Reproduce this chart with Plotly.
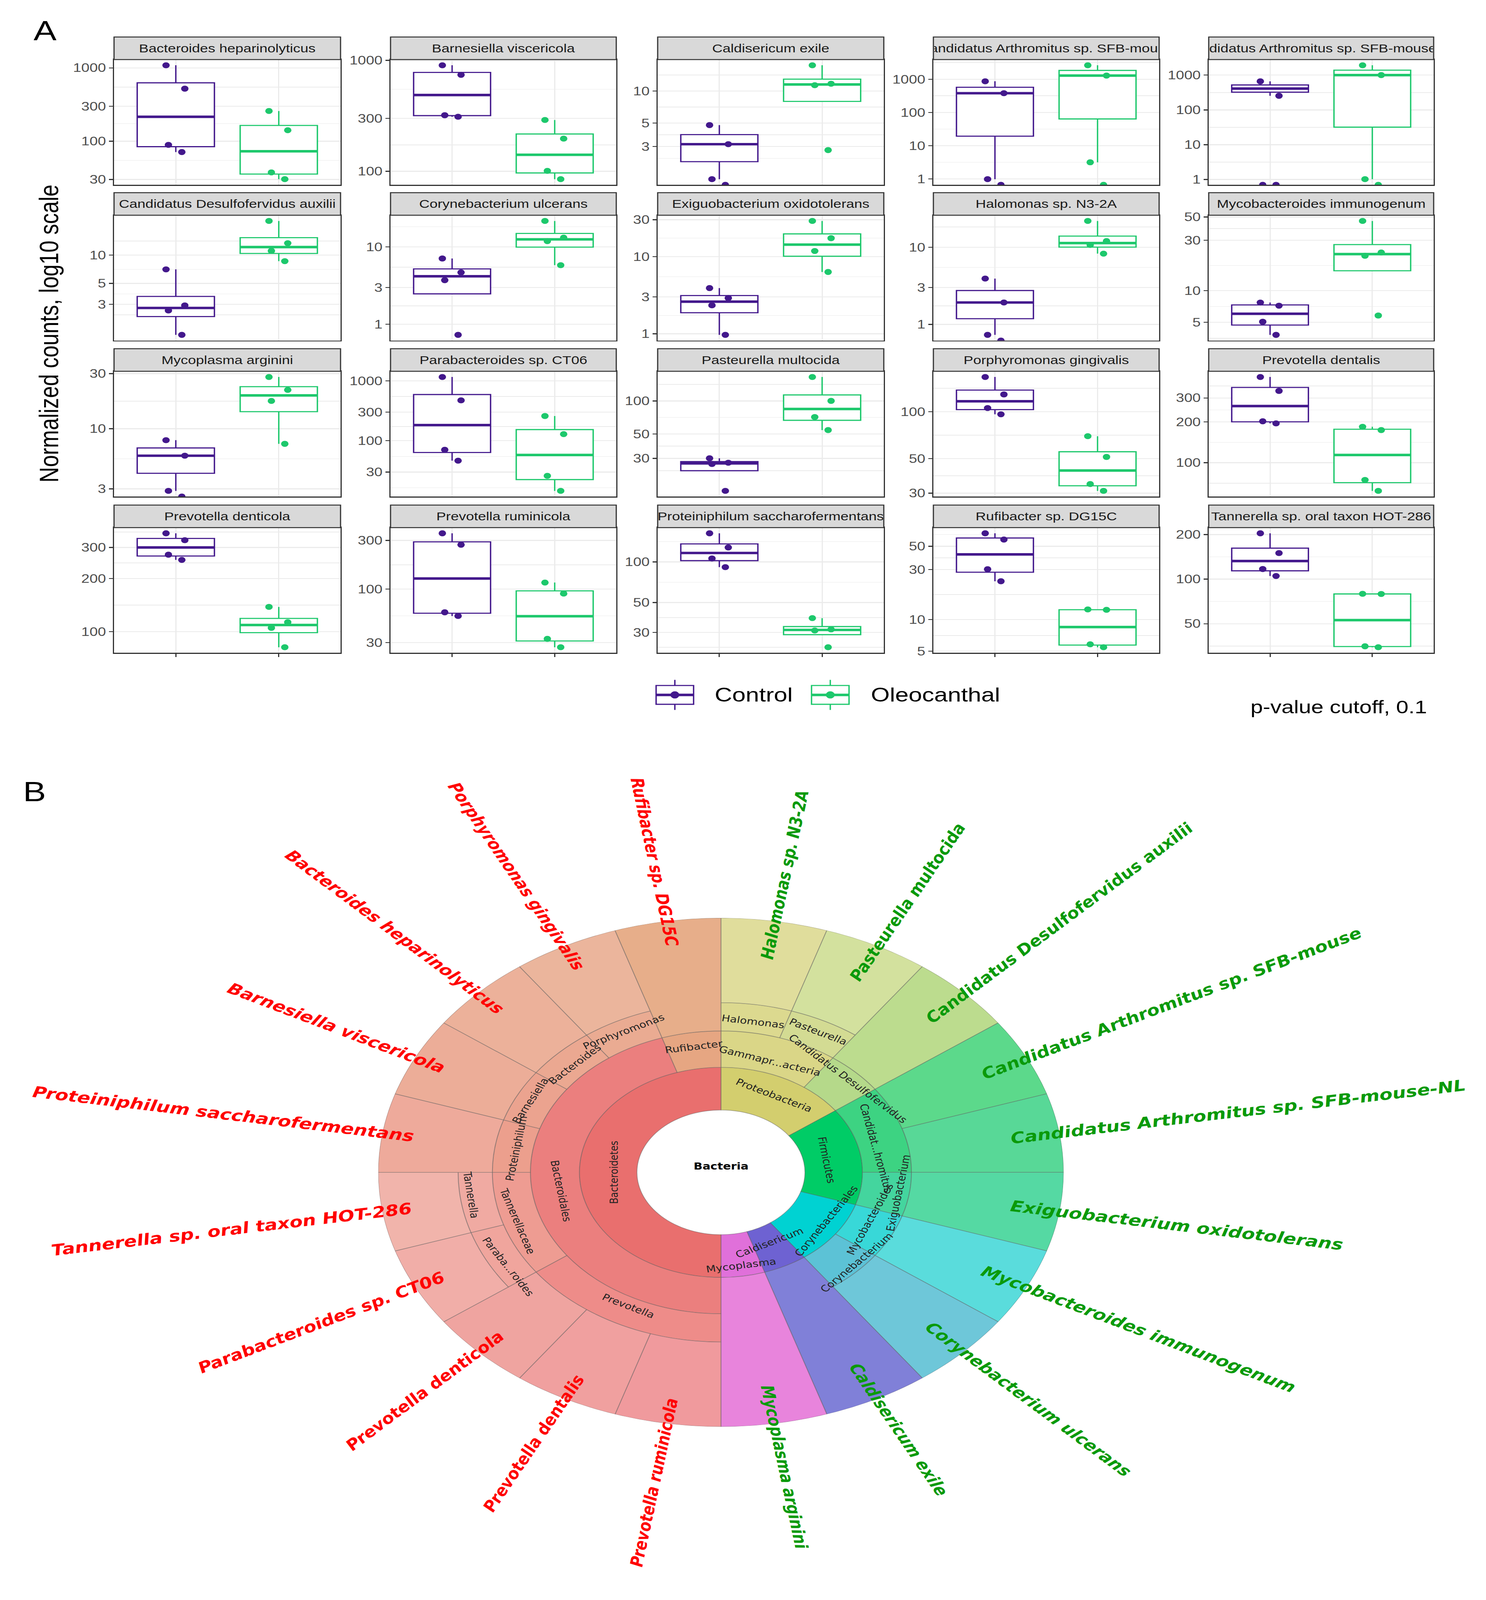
import numpy as np
import plotly.graph_objects as go

# ============================ DATA ============================
panel_titles = [
    "Bacteroides heparinolyticus", "Barnesiella viscericola", "Caldisericum exile",
    "Candidatus Arthromitus sp. SFB-mouse", "Candidatus Arthromitus sp. SFB-mouse-NL",
    "Candidatus Desulfofervidus auxilii", "Corynebacterium ulcerans", "Exiguobacterium oxidotolerans",
    "Halomonas sp. N3-2A", "Mycobacteroides immunogenum",
    "Mycoplasma arginini", "Parabacteroides sp. CT06", "Pasteurella multocida",
    "Porphyromonas gingivalis", "Prevotella dentalis",
    "Prevotella denticola", "Prevotella ruminicola", "Proteiniphilum saccharofermentans",
    "Rufibacter sp. DG15C", "Tannerella sp. oral taxon HOT-286",
]
groups = ["Control", "Oleocanthal"]

# normalized counts per mouse (0 = not detected)
control_counts = [
    [71, 89, 520, 1085], [310, 320, 740, 902], [0, 1.48, 3.16, 4.78],
    [0, 0.98, 379, 866], [0, 0, 254, 662],
    [1.42, 2.58, 2.92, 7.06], [0.73, 3.72, 4.69, 7.1], [0.97, 2.34, 2.91, 3.91],
    [0, 0.73, 1.92, 3.92], [3.8, 5.06, 7.19, 7.7],
    [0, 2.88, 5.82, 7.94], [46.4, 70.6, 473, 1164], [15.2, 26.7, 27.4, 30.1],
    [96.2, 105.5, 129, 167], [195, 202, 338, 428],
    [255, 273, 330, 361], [54.6, 59.3, 272, 352], [91.5, 106, 128, 163],
    [23.2, 30.2, 57.9, 66.4], [105, 117, 150, 204],
]
oleocanthal_counts = [
    [30.3, 37.5, 141, 258], [85, 101, 197, 290], [2.78, 11.35, 11.72, 17.5],
    [0, 3.16, 1285, 2630], [0, 1.02, 1000, 1918],
    [8.63, 11.1, 13.4, 23.1], [5.82, 11.9, 13.2, 21.7], [6.32, 11.8, 17.3, 28.9],
    [8.25, 10.7, 12.0, 21.9], [5.8, 21.4, 23.0, 45.8],
    [7.38, 17.4, 21.7, 28.1], [14.5, 25.9, 129, 259], [54.3, 71.3, 100, 165],
    [31.0, 34.3, 51.2, 69.6], [62.1, 74.8, 174, 184],
    [81.5, 105, 113, 138], [27.0, 32.6, 90.4, 116], [23.3, 31.0, 31.6, 38.3],
    [5.46, 5.82, 12.4, 12.5], [34.7, 35.2, 79.4, 79.6],
]
panel_breaks = [
    [30, 100, 300, 1000], [100, 300, 1000], [3, 5, 10], [1, 10, 100, 1000], [1, 10, 100, 1000],
    [3, 5, 10], [1, 3, 10], [1, 3, 10, 30], [1, 3, 10], [5, 10, 30, 50],
    [3, 10, 30], [30, 100, 300, 1000], [30, 50, 100], [30, 50, 100], [100, 200, 300],
    [100, 200, 300], [30, 100, 300], [30, 50, 100], [5, 10, 30, 50], [50, 100, 200],
]

# taxonomy of the differential species (child, parent), clockwise order
taxonomy = [
    ("Proteobacteria", "Bacteria"),
    ("Gammaproteobacteria", "Proteobacteria"),
    ("Halomonas", "Gammaproteobacteria"),
    ("Halomonas sp. N3-2A", "Halomonas"),
    ("Pasteurella", "Gammaproteobacteria"),
    ("Pasteurella multocida", "Pasteurella"),
    ("Candidatus Desulfofervidus", "Proteobacteria"),
    ("Candidatus Desulfofervidus auxilii", "Candidatus Desulfofervidus"),
    ("Firmicutes", "Bacteria"),
    ("Candidatus Arthromitus", "Firmicutes"),
    ("Candidatus Arthromitus sp. SFB-mouse", "Candidatus Arthromitus"),
    ("Candidatus Arthromitus sp. SFB-mouse-NL", "Candidatus Arthromitus"),
    ("Exiguobacterium", "Firmicutes"),
    ("Exiguobacterium oxidotolerans", "Exiguobacterium"),
    ("Corynebacteriales", "Bacteria"),
    ("Mycobacteroides", "Corynebacteriales"),
    ("Mycobacteroides immunogenum", "Mycobacteroides"),
    ("Corynebacterium", "Corynebacteriales"),
    ("Corynebacterium ulcerans", "Corynebacterium"),
    ("Caldisericum", "Bacteria"),
    ("Caldisericum exile", "Caldisericum"),
    ("Mycoplasma", "Bacteria"),
    ("Mycoplasma arginini", "Mycoplasma"),
    ("Bacteroidetes", "Bacteria"),
    ("Bacteroidales", "Bacteroidetes"),
    ("Prevotella", "Bacteroidales"),
    ("Prevotella ruminicola", "Prevotella"),
    ("Prevotella dentalis", "Prevotella"),
    ("Prevotella denticola", "Prevotella"),
    ("Tannerellaceae", "Bacteroidales"),
    ("Parabacteroides", "Tannerellaceae"),
    ("Parabacteroides sp. CT06", "Parabacteroides"),
    ("Tannerella", "Tannerellaceae"),
    ("Tannerella sp. oral taxon HOT-286", "Tannerella"),
    ("Proteiniphilum", "Bacteroidales"),
    ("Proteiniphilum saccharofermentans", "Proteiniphilum"),
    ("Barnesiella", "Bacteroidales"),
    ("Barnesiella viscericola", "Barnesiella"),
    ("Bacteroides", "Bacteroidales"),
    ("Bacteroides heparinolyticus", "Bacteroides"),
    ("Porphyromonas", "Bacteroidales"),
    ("Porphyromonas gingivalis", "Porphyromonas"),
    ("Rufibacter", "Bacteroidetes"),
    ("Rufibacter sp. DG15C", "Rufibacter"),
]
short_labels = {"Gammaproteobacteria": "Gammapr...acteria",
                "Candidatus Arthromitus": "Candidat...hromitus",
                "Parabacteroides": "Paraba...roides"}

# ============================ STYLE ============================
W, H = 3805, 5073
CTRL, OLEO = "#43188C", "#1DC86C"
FONT_A = "Liberation Sans, Arial, sans-serif"
FONT_B = "DejaVu Sans, Verdana, sans-serif"

col_left = [292, 1000, 1684, 2390, 3095]
col_right = [872, 1578, 2263, 2968, 3671]
strip_top = [100, 597, 1095, 1594]
STRIP_H, PANEL_H = 72, 400

node_colors = {
    "Proteobacteria": "#D3CE6E", "Gammaproteobacteria": "#DAD687", "Halomonas": "#DCD98F",
    "Halomonas sp. N3-2A": "#E0DD9C", "Pasteurella": "#D3DB93", "Pasteurella multocida": "#D3E19E",
    "Candidatus Desulfofervidus": "#B5D98A", "Candidatus Desulfofervidus auxilii": "#BCDC8E",
    "Firmicutes": "#00CC66", "Candidatus Arthromitus": "#3DD382",
    "Candidatus Arthromitus sp. SFB-mouse": "#5CD98B", "Candidatus Arthromitus sp. SFB-mouse-NL": "#58D897",
    "Exiguobacterium": "#44D59E", "Exiguobacterium oxidotolerans": "#55D9A3",
    "Corynebacteriales": "#00D2D2", "Mycobacteroides": "#38D8D8", "Mycobacteroides immunogenum": "#5ADCDC",
    "Corynebacterium": "#5CC2D6", "Corynebacterium ulcerans": "#6EC7D9",
    "Caldisericum": "#6E62D2", "Caldisericum exile": "#8080D8",
    "Mycoplasma": "#E070DA", "Mycoplasma arginini": "#E884DC",
    "Bacteroidetes": "#E96F6E", "Bacteroidales": "#EB7F7E", "Prevotella": "#EE8C89",
    "Prevotella ruminicola": "#F09A9D", "Prevotella dentalis": "#F0A09F", "Prevotella denticola": "#EFA4A0",
    "Tannerellaceae": "#EE9C92", "Parabacteroides": "#F0A59D", "Parabacteroides sp. CT06": "#F1AEA8",
    "Tannerella": "#F0AAA2", "Tannerella sp. oral taxon HOT-286": "#F1B4AB",
    "Proteiniphilum": "#EC9F8D", "Proteiniphilum saccharofermentans": "#EEAA9B",
    "Barnesiella": "#EBA38F", "Barnesiella viscericola": "#ECAD98",
    "Bacteroides": "#EBA891", "Bacteroides heparinolyticus": "#ECB19A",
    "Porphyromonas": "#EAAB92", "Porphyromonas gingivalis": "#EBB59C",
    "Rufibacter": "#E6A682", "Rufibacter sp. DG15C": "#E7AE8A",
}
label_radius = {
    "Bacteroidetes": 0.31, "Bacteroidales": 0.47, "Prevotella": 0.59, "Tannerellaceae": 0.62,
    "Parabacteroides": 0.72, "Tannerella": 0.73, "Proteiniphilum": 0.60, "Barnesiella": 0.62,
    "Bacteroides": 0.60, "Porphyromonas": 0.62, "Rufibacter": 0.50,
    "Proteobacteria": 0.34, "Gammaproteobacteria": 0.46, "Halomonas": 0.60, "Pasteurella": 0.62,
    "Candidatus Desulfofervidus": 0.52, "Firmicutes": 0.31, "Candidatus Arthromitus": 0.46,
    "Exiguobacterium": 0.52, "Corynebacteriales": 0.36, "Mycobacteroides": 0.47,
    "Corynebacterium": 0.53, "Caldisericum": 0.31, "Mycoplasma": 0.37,
}
# small angular nudges of crowded labels (degrees, clockwise from top)
label_theta = {"Parabacteroides": 239, "Tannerella": 263, "Candidatus Arthromitus": 78,
               "Mycobacteroides": 113, "Corynebacteriales": 122, "Corynebacterium": 132}
ring_edges = [0.245, 0.413, 0.556, 0.667, 0.767]
CX, CY = 1846, 3724
R0, KX = 812, 1.088   # wheel radius and its horizontal stretch (as in the reference)

fig = go.Figure()
axes = {}
shapes = []
annotations = []


def q7(v, p):
    return float(np.percentile(v, p))  # linear interpolation (R type 7)


def px(x):
    return x / W


def py(y):
    return 1 - y / H


# ============================ PANEL A ============================
for i, title in enumerate(panel_titles):
    r, c = divmod(i, 5)
    s = "" if i == 0 else str(i + 1)
    st = strip_top[r]
    pt, pb = st + STRIP_H, st + STRIP_H + PANEL_H
    xl, xr = col_left[c], col_right[c]

    finite = [np.log10(v) for v in control_counts[i] + oleocanthal_counts[i] if v > 0]
    lo_f, hi_f = min(finite), max(finite)
    span = hi_f - lo_f
    lo, hi = lo_f - 0.05 * span, hi_f + 0.05 * span

    for g, (vals, col, xpos) in enumerate([(control_counts[i], CTRL, 1), (oleocanthal_counts[i], OLEO, 2)]):
        fin = np.sort([np.log10(v) for v in vals if v > 0])
        q1, med, q3 = q7(fin, 25), q7(fin, 50), q7(fin, 75)
        iqr = q3 - q1
        lf = float(fin[fin >= q1 - 1.5 * iqr].min())
        uf = float(fin[fin <= q3 + 1.5 * iqr].max())
        fig.add_trace(go.Box(
            x=[xpos], q1=[q1], median=[med], q3=[q3], lowerfence=[lf], upperfence=[uf],
            width=0.75, whiskerwidth=0, fillcolor="white", line=dict(color=col, width=3.5),
            boxpoints=False, name=groups[g], legendgroup=groups[g], showlegend=False,
            xaxis="x" + s, yaxis="y" + s))
        fig.add_trace(go.Scatter(
            x=[xpos - 0.375, xpos + 0.375], y=[med, med], mode="lines",
            line=dict(color=col, width=8), showlegend=False, hoverinfo="skip",
            xaxis="x" + s, yaxis="y" + s))
        pts = [np.log10(v) if v > 0 else lo for v in vals]
        fig.add_trace(go.Box(
            x=[xpos] * len(pts), y=pts, width=0.75, boxpoints="all", jitter=0.3, pointpos=0,
            fillcolor="rgba(0,0,0,0)", line=dict(color="rgba(0,0,0,0)", width=0),
            marker=dict(color=col, size=19), showlegend=False, legendgroup=groups[g],
            xaxis="x" + s, yaxis="y" + s))

    br = [np.log10(b) for b in panel_breaks[i]]
    minors = [br[0] - (br[1] - br[0]) / 2] + [(a + b) / 2 for a, b in zip(br[:-1], br[1:])] + \
             [br[-1] + (br[-1] - br[-2]) / 2]
    axes["xaxis" + s] = dict(
        domain=[px(xl), px(xr)], anchor="y" + s, range=[0.4, 2.6], tickvals=[1, 2],
        showticklabels=False, ticks="outside" if r == 3 else "", ticklen=10, tickwidth=3,
        tickcolor="#333333", showgrid=True, gridcolor="#EBEBEB", gridwidth=3, zeroline=False,
        showline=True, linecolor="#333333", linewidth=3, mirror=True)
    axes["yaxis" + s] = dict(
        domain=[py(pb), py(pt)], anchor="x" + s, range=[lo, hi],
        tickvals=br, ticktext=[f"{b:g}" for b in panel_breaks[i]],
        ticks="outside", ticklen=10, tickwidth=3, tickcolor="#333333",
        tickfont=dict(size=38, color="#4D4D4D", family=FONT_A),
        showgrid=True, gridcolor="#EBEBEB", gridwidth=3,
        minor=dict(tickvals=minors, showgrid=True, gridcolor="#EBEBEB", gridwidth=1.5, ticks=""),
        zeroline=False, showline=True, linecolor="#333333", linewidth=3, mirror=True)

    shapes.append(dict(type="rect", xref="paper", yref="paper", x0=px(xl), x1=px(xr),
                       y0=py(pt), y1=py(st), fillcolor="#D9D9D9",
                       line=dict(color="#333333", width=3), layer="above"))
    annotations.append(dict(text=title, xref="paper", yref="paper", x=px((xl + xr) / 2),
                            y=py(st + STRIP_H / 2), showarrow=False, width=xr - xl - 4,
                            font=dict(size=37, color="#1A1A1A", family=FONT_A),
                            xanchor="center", yanchor="middle"))

# legend keys (box glyph with whiskers, median and dot) and labels
LEG_Y = 2200
for gname, col, kx, tx in [("Control", CTRL, 1728, 1828), ("Oleocanthal", OLEO, 2126, 2228)]:
    shapes += [
        dict(type="line", xref="paper", yref="paper", x0=px(kx), x1=px(kx),
             y0=py(LEG_Y - 48), y1=py(LEG_Y + 48), line=dict(color=col, width=3.5)),
        dict(type="rect", xref="paper", yref="paper", x0=px(kx - 48), x1=px(kx + 48),
             y0=py(LEG_Y - 30), y1=py(LEG_Y + 30), fillcolor="white", line=dict(color=col, width=3.5)),
        dict(type="line", xref="paper", yref="paper", x0=px(kx - 48), x1=px(kx + 48),
             y0=py(LEG_Y), y1=py(LEG_Y), line=dict(color=col, width=8)),
        dict(type="circle", xref="paper", yref="paper", x0=px(kx - 11), x1=px(kx + 11),
             y0=py(LEG_Y - 11), y1=py(LEG_Y + 11), fillcolor=col, line=dict(color=col, width=1)),
    ]
    annotations.append(dict(text=gname, xref="paper", yref="paper", x=px(tx), y=py(LEG_Y),
                            showarrow=False, xanchor="left", yanchor="middle",
                            font=dict(size=62, color="black", family=FONT_A)))

annotations += [
    dict(text="A", xref="paper", yref="paper", x=px(115), y=py(80), showarrow=False,
         font=dict(size=88, color="black", family=FONT_A), xanchor="center", yanchor="middle"),
    dict(text="B", xref="paper", yref="paper", x=px(88), y=py(2508), showarrow=False,
         font=dict(size=88, color="black", family=FONT_A), xanchor="center", yanchor="middle"),
    dict(text="Normalized counts, log10 scale", xref="paper", yref="paper", x=px(125),
         y=py(1047), showarrow=False, textangle=-90,
         font=dict(size=68, color="black", family=FONT_A), xanchor="center", yanchor="middle"),
    dict(text="p-value cutoff, 0.1", xref="paper", yref="paper", x=px(3656), y=py(2238),
         showarrow=False, font=dict(size=57, color="black", family=FONT_A),
         xanchor="right", yanchor="middle"),
]

# ============================ PANEL B ============================
children = {}
for ch, pa in taxonomy:
    children.setdefault(pa, []).append(ch)


def n_leaves(n):
    return 1 if n not in children else sum(n_leaves(k) for k in children[n])


total = n_leaves("Bacteria")
geo = {}


def assign(n, start, depth):
    span = n_leaves(n) * 360.0 / total
    geo[n] = (start, span, depth)
    s0 = start
    for k in children.get(n, []):
        assign(k, s0, depth + 1)
        s0 += n_leaves(k) * 360.0 / total


assign("Bacteria", 0.0, 0)

th, wd, base, rr, cols = [], [], [], [], []
for n, (start, span, depth) in geo.items():
    if depth == 0:
        continue
    leaf = n not in children
    b0 = ring_edges[depth - 1]
    b1 = 1.0 if leaf else ring_edges[depth]
    th.append(start + span / 2)
    wd.append(span)
    base.append(b0)
    rr.append(b1 - b0)
    cols.append(node_colors[n])

fig.add_trace(go.Barpolar(theta=th, width=wd, base=base, r=rr, subplot="polar",
                          marker=dict(color=cols, line=dict(color="rgba(90,90,90,0.45)", width=2)),
                          showlegend=False, hoverinfo="skip"))


def wheel_xy(theta_deg, frac):
    t = np.deg2rad(theta_deg)
    return CX + KX * frac * R0 * np.sin(t), CY - frac * R0 * np.cos(t)


# inner taxon labels (tangential)
for n, (start, span, depth) in geo.items():
    if depth == 0 or n not in children:
        continue
    t = label_theta.get(n, start + span / 2) % 360
    tr = np.deg2rad(t)
    ang = float(np.degrees(np.arctan2(np.sin(tr), KX * np.cos(tr))))
    if ang > 90.5:
        ang -= 180
    elif ang < -90.5:
        ang += 180
    x, y = wheel_xy(t, label_radius[n])
    annotations.append(dict(text=short_labels.get(n, n), xref="paper", yref="paper", x=px(x), y=py(y),
                            showarrow=False, textangle=ang, xanchor="center", yanchor="middle",
                            font=dict(size=29, color="#222222", family=FONT_B)))
annotations.append(dict(text="Bacteria", xref="paper", yref="paper", x=px(CX), y=py(CY),
                        showarrow=False, font=dict(size=30, color="black", family=FONT_B, weight="bold")))

# outer species labels (red: higher in Control, green: higher in Oleocanthal)
DJB = dict(zip(" -.0123456789", [0.348, 0.416, 0.381] + [0.696] * 10))
DJB.update(dict(A=.776, B=.762, C=.734, D=.830, E=.683, F=.683, G=.821, H=.837, I=.372, L=.635,
                M=.992, N=.837, O=.850, P=.734, R=.770, S=.724, T=.683,
                a=.675, b=.716, c=.593, d=.716, e=.678, f=.435, g=.716, h=.712, i=.343, j=.343,
                k=.665, l=.343, m=1.042, n=.712, o=.687, p=.716, q=.716, r=.493, s=.595, t=.478,
                u=.712, v=.650, w=.921, x=.645, y=.650, z=.586))
LBL = 45
for n, (start, span, depth) in geo.items():
    if n in children:
        continue
    k = panel_titles.index(n)
    up = np.median(oleocanthal_counts[k]) > np.median(control_counts[k])
    tdeg = start + span / 2
    t = np.deg2rad(tdeg)
    dx, dy = KX * np.sin(t), -np.cos(t)          # outward direction on the stretched wheel
    stretch = np.hypot(dx, dy)
    ux, uy = dx / stretch, dy / stretch
    size = LBL * stretch
    L = size * sum(DJB.get(ch, 0.68) for ch in n)
    r_start = (0.85 if tdeg < 180 else 0.90) * R0
    x0, y0 = CX + r_start * dx, CY + r_start * dy
    xc, yc = x0 + ux * L / 2, y0 + uy * L / 2
    out_ang = np.degrees(np.arctan2(uy, ux))
    ang = out_ang if ux >= 0 else out_ang + 180
    if ang > 180:
        ang -= 360
    annotations.append(dict(text=n, xref="paper", yref="paper", x=px(xc), y=py(yc), showarrow=False,
                            textangle=float(ang), xanchor="center", yanchor="middle",
                            font=dict(size=float(size), color="#0A9A0A" if up else "#FF0000",
                                      family=FONT_B, weight="bold", style="italic")))

fig.update_layout(
    width=W, height=H, margin=dict(l=0, r=0, t=0, b=0),
    paper_bgcolor="white", plot_bgcolor="white",
    font=dict(family=FONT_A, color="black"),
    showlegend=False,
    polar=dict(domain=dict(x=[px(CX - R0), px(CX + R0)], y=[py(CY + R0), py(CY - R0)]),
               bgcolor="rgba(0,0,0,0)",
               radialaxis=dict(range=[0, 1], visible=False),
               angularaxis=dict(rotation=90, direction="clockwise", visible=False)),
    shapes=shapes, annotations=annotations,
    **axes,
)

# fit the fixed-size figure into the browser viewport; give the wheel the reference's
# horizontal stretch
post = """
(function(){
  var gd = document.getElementById('{plot_id}');
  document.body.style.margin = '0';
  document.body.style.overflow = 'hidden';
  var sx = Math.min(1, window.innerWidth / %d), sy = Math.min(1, window.innerHeight / %d);
  if (sx < 1 || sy < 1) { gd.style.transformOrigin = '0 0'; gd.style.transform = 'scale(' + sx + ',' + sy + ')'; }
  function wheel() {
    var pl = gd.querySelector('.polarlayer');
    if (pl) { pl.style.transformOrigin = '%dpx %dpx'; pl.style.transform = 'scale(%s,1)'; }
  }
  wheel();
  if (gd.on) { gd.on('plotly_afterplot', wheel); }
  setTimeout(wheel, 30);
})();
""" % (W, H, CX, CY, KX)
fig.write_html("out.html", post_script=post, config={"displayModeBar": False})
